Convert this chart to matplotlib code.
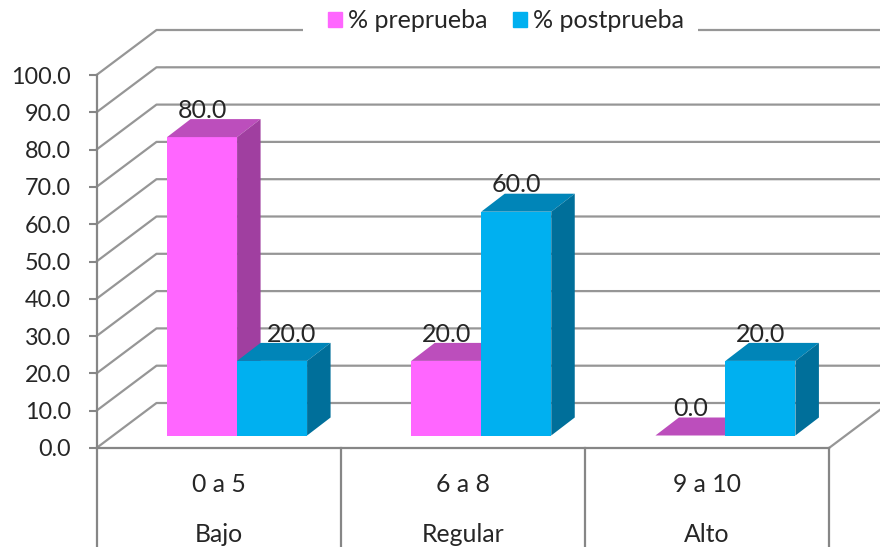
import matplotlib
matplotlib.use("Agg")
import matplotlib.pyplot as plt
from matplotlib.patches import Patch, Rectangle

plt.rcParams["font.family"] = ["Lato", "DejaVu Sans"]

# data
scores = ["0 a 5", "6 a 8", "9 a 10"]
levels = ["Bajo", "Regular", "Alto"]
pre = [80.0, 20.0, 0.0]
post = [20.0, 60.0, 20.0]
yticks = [0, 10, 20, 30, 40, 50, 60, 70, 80, 90, 100]
series_names = ["% preprueba", "% postprueba"]

W, H = 880, 547
AX_L, AX_R, AX_T, AX_B = 96.5, 829, 75, 448
PX_X = (AX_R - AX_L) / 3.0   # pixels per category
PX_Y = (AX_B - AX_T) / 100.0  # pixels per value unit

# fake 3d offsets, in pixels
WALL_DX, WALL_DY = 60, 45
BAR_DX, BAR_DY = 23.5, 18
FRONT_DX, FRONT_DY = 18.5, 12.5
BAR_W = 70 / PX_X

GRID = "#969696"
AXIS = "#868686"
TEXT = "#262626"
PINK = ("#FF66FF", "#BC4EBC", "#A03FA0")  # front, top, side
BLUE = ("#00B0F0", "#0085B8", "#006F9A")

FS_TICK = 16.8
FS_LABEL = 18
FS_CAT = 17.8
FS_LEG = 18


def draw_wall(ax):
    dx, dy = WALL_DX / PX_X, WALL_DY / PX_Y
    for v in yticks:
        ax.plot([-0.5, -0.5 + dx, 2.5 + dx + 1], [v, v + dy, v + dy],
                color=GRID, lw=1.6, clip_on=False, zorder=1)
    ax.plot([2.5, 2.5 + dx * 1.2], [0, dy * 1.2], color=GRID, lw=1.6,
            clip_on=False, zorder=1)


def draw_bar(ax, x0, val, cols):
    fx, fy = FRONT_DX / PX_X, FRONT_DY / PX_Y
    bx, by = BAR_DX / PX_X, BAR_DY / PX_Y
    left = x0 + fx
    right = left + BAR_W
    top = val + fy
    ax.bar(left, val, width=BAR_W, bottom=fy, align="edge", color=cols[0],
           linewidth=0, clip_on=False, zorder=3)
    ax.fill([left, right, right + bx, left + bx],
            [top, top, top + by, top + by],
            color=cols[1], lw=0, clip_on=False, zorder=3)
    if val > 0:
        ax.fill([right, right + bx, right + bx, right],
                [fy, fy + by, top + by, top],
                color=cols[2], lw=0, clip_on=False, zorder=3)


fig = plt.figure(figsize=(W / 100, H / 100), dpi=100)
ax = fig.add_axes([AX_L / W, 1 - AX_B / H, (AX_R - AX_L) / W, (AX_B - AX_T) / H])
ax.set_xlim(-0.5, 2.5)
ax.set_ylim(0, 100)

draw_wall(ax)

# bars go left to right so the blue covers the side of the pink one
for i in range(len(scores)):
    x_pre = i - 70 / PX_X
    draw_bar(ax, x_pre, pre[i], PINK)
    draw_bar(ax, i, post[i], BLUE)

fy = FRONT_DY / PX_Y
fx = FRONT_DX / PX_X
for i in range(len(scores)):
    ax.text(i - BAR_W / 2 + fx, pre[i] + fy + 7.2, f"{pre[i]:.1f}", ha="center",
            va="center", fontsize=FS_LABEL, color=TEXT, zorder=5)
    # first blue label sits further right in the original
    shift = 19 / PX_X if i == 0 else 0
    ax.text(i + BAR_W / 2 + fx + shift, post[i] + fy + 7.2, f"{post[i]:.1f}",
            ha="center", va="center", fontsize=FS_LABEL, color=TEXT, zorder=5)

# axes
for s in ("top", "right"):
    ax.spines[s].set_visible(False)
for s in ("left", "bottom"):
    ax.spines[s].set_color(AXIS)
    ax.spines[s].set_linewidth(1.6)
ax.set_yticks(yticks)
ax.set_yticklabels([f"{v:.1f}" for v in yticks], fontsize=FS_TICK, color=TEXT)
ax.tick_params(axis="y", length=6, width=1.5, color=AXIS, pad=12.5)
ax.set_xticks([])

# category table below the axis
trans = ax.get_xaxis_transform()
for x in [-0.5, 0.5, 1.5, 2.5]:
    ax.plot([x, x], [0, -(H - AX_B) / (AX_B - AX_T)], transform=trans,
            color=AXIS, lw=1.6, clip_on=False, zorder=2)
for i in range(len(scores)):
    ax.text(i, -(484 - AX_B) / (AX_B - AX_T), scores[i], transform=trans,
            ha="center", va="center", fontsize=FS_CAT, color=TEXT)
    ax.text(i, -(535 - AX_B) / (AX_B - AX_T), levels[i], transform=trans,
            ha="center", va="center", fontsize=FS_CAT, color=TEXT)

# white block behind the legend cuts the top gridline
fig.add_artist(Rectangle((303 / W, 1 - 45 / H), 395 / W, 45 / H, facecolor="white",
                         edgecolor="none", transform=fig.transFigure, zorder=4))
handles = [Patch(color=PINK[0]), Patch(color=BLUE[0])]
leg = fig.legend(handles, series_names, ncol=2, loc="center",
                 bbox_to_anchor=(506 / W, 1 - 21 / H), fontsize=FS_LEG,
                 frameon=False, labelcolor=TEXT,
                 handlelength=0.56, handleheight=0.56, handletextpad=0.25,
                 columnspacing=1.0, borderpad=0.2)
leg.set_zorder(5)

fig.savefig("out.png", dpi=100)
